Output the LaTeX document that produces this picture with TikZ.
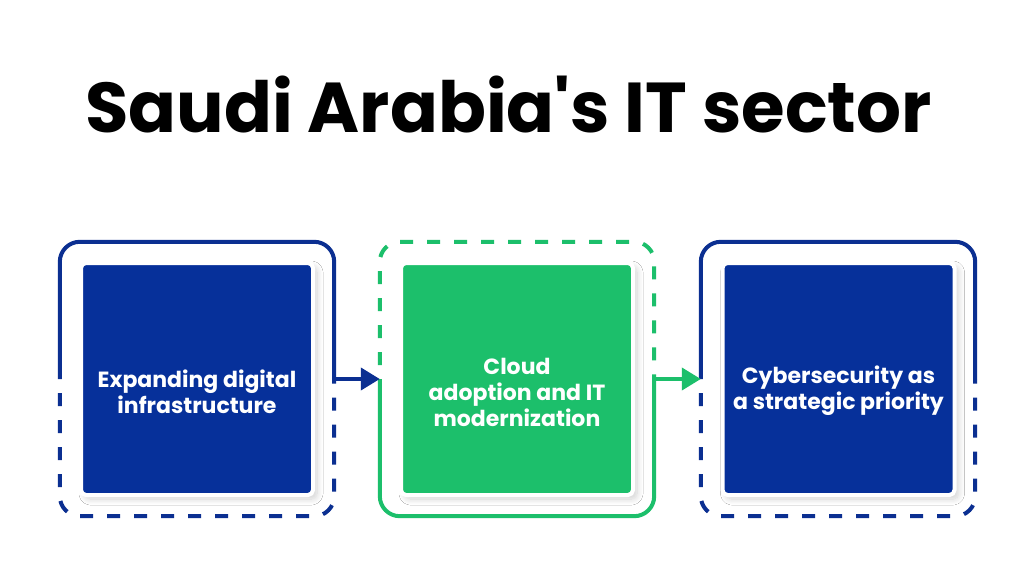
\documentclass[tikz,border=0pt]{standalone}
\usepackage{fontspec}
\setmainfont{Poppins}[Ligatures=TeXOff]
\usetikzlibrary{arrows.meta,shadows.blur}
\definecolor{navy}{HTML}{0B2F91}
\definecolor{navyfill}{HTML}{06309A}
\definecolor{leaf}{HTML}{1CBF6B}
\tikzset{
  frame/.style={minimum size=274pt, inner sep=0pt},
  ln/.style={line width=4pt, rounded corners=20pt},
  dsh/.style={dash pattern=on 13pt off 14pt, dash phase=13pt},
  card/.style={minimum size=232pt, inner sep=0pt, rounded corners=5pt, draw=white, line width=4pt,
    blur shadow={shadow xshift=4pt, shadow yshift=-4pt, shadow opacity=18, shadow blur radius=6pt, shadow blur steps=10}},
  lbl/.style={font=\bfseries\fontsize{22}{26}\selectfont, text=white, align=center},
  tip/.style={-{Triangle[length=19pt,width=22pt]}}
}
\begin{document}
\begin{tikzpicture}[x=1pt,y=-1pt]
\useasboundingbox[fill=white] (0,0) rectangle (1024,585);
\node[font=\bfseries\fontsize{70.6}{80}\selectfont, anchor=base] (title) at (508.5,133) {Saudi Arabia's IT sector};

\node[frame] (f1) at (197,379) {};
\node[frame] (f2) at (517,379) {};
\node[frame] (f3) at (838,379) {};

% frame 1
\draw[ln, navy] (f1.west) -- (f1.north west) -- (f1.north east) -- (f1.east);
\draw[ln, navy, dsh] (f1.west) -- (f1.south west) -- (f1.south east) -- (f1.east);
% frame 2
\draw[ln, leaf, dsh] (f2.west) -- (f2.north west) -- (f2.north east) -- (f2.east);
\draw[ln, leaf] (f2.west) -- (f2.south west) -- (f2.south east) -- (f2.east);
% frame 3
\draw[ln, navy] (f3.west) -- (f3.north west) -- (f3.north east) -- (f3.east);
\draw[ln, navy, dsh] (f3.west) -- (f3.south west) -- (f3.south east) -- (f3.east);

% connectors
\draw[line width=4pt, navy, tip] (f1.east) -- (f2.west);
\draw[line width=4pt, leaf, tip] (f2.east) -- (f3.west);

% cards
\node[card, fill=navyfill] (b1) at (197,379) {};
\node[card, fill=leaf] (b2) at (517,379) {};
\node[card, fill=navyfill] (b3) at (838.5,379) {};

\node[lbl] (t1) at (197,392) {Expanding digital\\infrastructure};
\node[lbl] (t2) at (517,392) {Cloud\\adoption and IT\\modernization};
\node[lbl] (t3) at (838.5,391) {Cybersecurity as\\a strategic priority};
\end{tikzpicture}
\end{document}
